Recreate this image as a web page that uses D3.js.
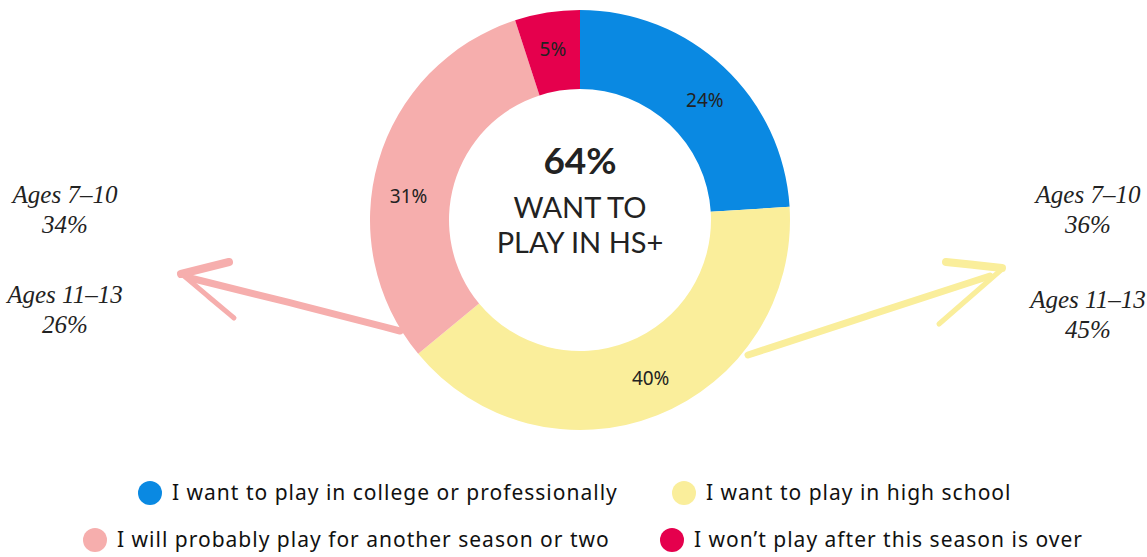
<!DOCTYPE html>
<html>
<head>
<meta charset="utf-8">
<script src="https://cdn.jsdelivr.net/npm/d3@7"></script>
<style>
  body { margin: 0; background: #fff; }
  svg { display: block; }
</style>
</head>
<body>
<div id="chart"></div>
<script>
var svgWidth = 1147;
var svgHeight = 557;

// data
var categories = [
  "I want to play in college or professionally",
  "I want to play in high school",
  "I will probably play for another season or two",
  "I won\u2019t play after this season is over"
];
var values = [24, 40, 31, 5];
var colors = ["#0a89e2", "#faee9b", "#f6aead", "#e5004d"];

var leftAges = ["Ages 7\u201310", "Ages 11\u201313"];
var leftPcts = ["34%", "26%"];
var rightAges = ["Ages 7\u201310", "Ages 11\u201313"];
var rightPcts = ["36%", "45%"];

var centerBig = "64%";
var centerLines = ["WANT TO", "PLAY IN HS+"];

var sans = "Lato, 'Noto Sans', sans-serif";
var legendFont = "'Noto Sans', Lato, sans-serif";
var serif = "'Liberation Serif', 'DejaVu Serif', serif";

// small angle nudges (degrees) for slice labels, as in the original layout
var labelNudge = [3, -2.5, -8.5, 0];

var svg = d3.select("#chart")
  .append("svg")
  .attr("width", svgWidth)
  .attr("height", svgHeight);

var cx = 580, cy = 220;
var outerR = 210, innerR = 131;

// hand drawn arrows (behind donut)
var line = d3.line().curve(d3.curveBasis);
var arrows = svg.append("g")
  .attr("fill", "none")
  .attr("stroke-linecap", "round")
  .attr("stroke-linejoin", "round");

// pink arrow pointing left
arrows.append("path")
  .attr("d", line([[400, 331], [300, 305], [190, 278]]))
  .attr("stroke", colors[2]).attr("stroke-width", 7);
arrows.append("path")
  .attr("d", line([[229, 262], [205, 268], [181, 274]]))
  .attr("stroke", colors[2]).attr("stroke-width", 8);
arrows.append("path")
  .attr("d", line([[183, 275], [210, 298], [234, 318]]))
  .attr("stroke", colors[2]).attr("stroke-width", 5);

// yellow arrow pointing right
arrows.append("path")
  .attr("d", line([[748, 355], [870, 315], [990, 276]]))
  .attr("stroke", colors[1]).attr("stroke-width", 7);
arrows.append("path")
  .attr("d", line([[946, 262], [975, 265], [1002, 268]]))
  .attr("stroke", colors[1]).attr("stroke-width", 8);
arrows.append("path")
  .attr("d", line([[1001, 270], [970, 297], [939, 324]]))
  .attr("stroke", colors[1]).attr("stroke-width", 5);

// donut
var pie = d3.pie().sort(null).value(d => d);
var arc = d3.arc().innerRadius(innerR).outerRadius(outerR);
var labelR = 173;

var donut = svg.append("g")
  .attr("transform", `translate(${cx}, ${cy})`);

donut.selectAll("path")
  .data(pie(values))
  .enter()
  .append("path")
  .attr("d", arc)
  .attr("fill", (d, i) => colors[i]);

donut.selectAll("text.slice")
  .data(pie(values))
  .enter()
  .append("text")
  .attr("class", "slice")
  .attr("transform", function(d, i) {
    var a = (d.startAngle + d.endAngle) / 2 + labelNudge[i] * Math.PI / 180;
    return `translate(${labelR * Math.sin(a)}, ${-labelR * Math.cos(a)})`;
  })
  .attr("dy", "0.35em")
  .attr("text-anchor", "middle")
  .style("font-family", legendFont)
  .style("font-size", "19px")
  .style("fill", "#222")
  .text(d => d.data + "%");

// center text
donut.append("text")
  .attr("y", -46)
  .attr("text-anchor", "middle")
  .style("font-family", sans)
  .style("font-size", "37px")
  .style("font-weight", "bold")
  .style("fill", "#222")
  .text(centerBig);

donut.selectAll("text.center")
  .data(centerLines)
  .enter()
  .append("text")
  .attr("class", "center")
  .attr("y", (d, i) => -2 + i * 35)
  .attr("text-anchor", "middle")
  .style("font-family", sans)
  .style("font-size", "29px")
  .style("fill", "#222")
  .text(d => d);

// age annotations
function ageBlock(x, ages, pcts, ys) {
  var g = svg.append("g")
    .style("font-family", serif)
    .style("font-style", "italic")
    .style("font-size", "25px")
    .style("fill", "#222")
    .attr("text-anchor", "middle");
  ages.forEach(function(a, i) {
    g.append("text").attr("x", x).attr("y", ys[i]).text(a);
    g.append("text").attr("x", x).attr("y", ys[i] + 30).text(pcts[i]);
  });
}
ageBlock(65, leftAges, leftPcts, [203, 303]);
ageBlock(1088, rightAges, rightPcts, [203, 308]);

// legend
var legendPos = [[150, 493], [684, 493], [95, 540], [672, 540]];
var legend = svg.selectAll("g.legend")
  .data(categories)
  .enter()
  .append("g")
  .attr("class", "legend")
  .attr("transform", (d, i) => `translate(${legendPos[i][0]}, ${legendPos[i][1]})`);

legend.append("circle")
  .attr("r", 12)
  .attr("fill", (d, i) => colors[i]);

legend.append("text")
  .attr("x", 22)
  .attr("dy", "0.35em")
  .style("font-family", legendFont)
  .style("font-size", "21px")
  .style("letter-spacing", "1px")
  .style("fill", "#111")
  .text(d => d);
</script>
</body>
</html>
